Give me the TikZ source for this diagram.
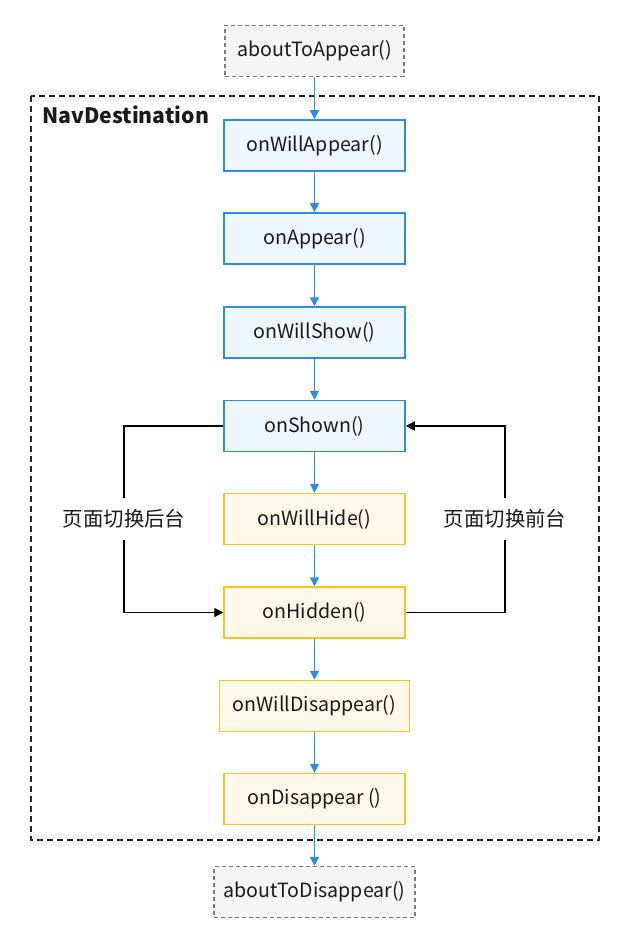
\documentclass[tikz,border=0pt]{standalone}
\usepackage{fontspec}
\setmainfont{Noto Sans CJK SC}
\usepackage{xcolor}
\usepackage{tikz}
\usetikzlibrary{positioning,arrows.meta}
\definecolor{lcblue}{HTML}{2B8DE3}
\definecolor{lcbluefill}{HTML}{EEF6FE}
\definecolor{lcyellow}{HTML}{FFC21F}
\definecolor{lcyellowfill}{HTML}{FFF9EC}
\definecolor{lcgray}{HTML}{7A7A7A}
\definecolor{lcgrayfill}{HTML}{F5F5F5}
\definecolor{lctext}{HTML}{1A1A1A}

\begin{document}
\begin{tikzpicture}[x=0.5pt, y=-0.5pt,
    font=\fontsize{9.8}{12}\selectfont, text=lctext,
    box/.style={line width=0.75pt, minimum width=90.5pt, minimum height=25.5pt, inner sep=0pt},
    blueBox/.style={box, draw=lcblue, fill=lcbluefill},
    yellowBox/.style={box, draw=lcyellow, fill=lcyellowfill},
    grayBox/.style={box, draw=lcgray, fill=lcgrayfill, dashed, dash pattern=on 2pt off 1.5pt, line width=0.6pt},
    flow/.style={-{Triangle[length=4.5pt,width=4.5pt]}, lcblue, line width=0.8pt},
    switch/.style={-{Triangle[length=4.5pt,width=4.5pt]}, black, line width=0.7pt},
    switchLabel/.style={fill=white, inner xsep=2pt, inner ysep=5.5pt, font=\fontsize{10.2}{12}\selectfont}]
    \useasboundingbox (0,0) rectangle (628,941);

    % Frame
    \draw[black!85, line width=0.7pt, dash pattern=on 3pt off 2pt] (31,96) rectangle (599,840);
    \node[anchor=west, font=\fontsize{10.6}{13}\selectfont\bfseries, inner sep=0pt] (navTitle) at (42,115) {NavDestination};

    % Lifecycle boxes
    \node[grayBox, minimum width=89.5pt] (aboutAppear) at (314.5,51) {aboutToAppear()};
    \node[blueBox] (willAppear) at (314.5,145.5) {onWillAppear()};
    \node[blueBox] (appear) at (314.5,238.5) {onAppear()};
    \node[blueBox] (willShow) at (314.5,332.5) {onWillShow()};
    \node[blueBox] (shown) at (314.5,426) {onShown()};
    \node[yellowBox] (willHide) at (314.5,519) {onWillHide()};
    \node[yellowBox] (hidden) at (314.5,612.5) {onHidden()};
    \node[yellowBox, minimum width=95pt] (willDisappear) at (314.5,706) {onWillDisappear()};
    \node[yellowBox] (disappear) at (314.5,799) {onDisappear ()};
    \node[grayBox, minimum width=100.5pt] (aboutDisappear) at (314.5,892) {aboutToDisappear()};

    % Main flow
    \draw[flow] (aboutAppear) -- (willAppear);
    \draw[flow] (willAppear) -- (appear);
    \draw[flow] (appear) -- (willShow);
    \draw[flow] (willShow) -- (shown);
    \draw[flow] (shown) -- (willHide);
    \draw[flow] (willHide) -- (hidden);
    \draw[flow] (hidden) -- (willDisappear);
    \draw[flow] (willDisappear) -- (disappear);
    \draw[flow] (disappear) -- (aboutDisappear);

    % Foreground / background switching
    \node[switchLabel] (toBack) at (124,519) {页面切换后台};
    \node[switchLabel] (toFront) at (505,519) {页面切换前台};
    \draw[line width=0.7pt] (shown.west) -| (toBack.north);
    \draw[switch] (toBack.south) |- (hidden.west);
    \draw[line width=0.7pt] (hidden.east) -| (toFront.south);
    \draw[switch] (toFront.north) |- (shown.east);
\end{tikzpicture}
\end{document}
